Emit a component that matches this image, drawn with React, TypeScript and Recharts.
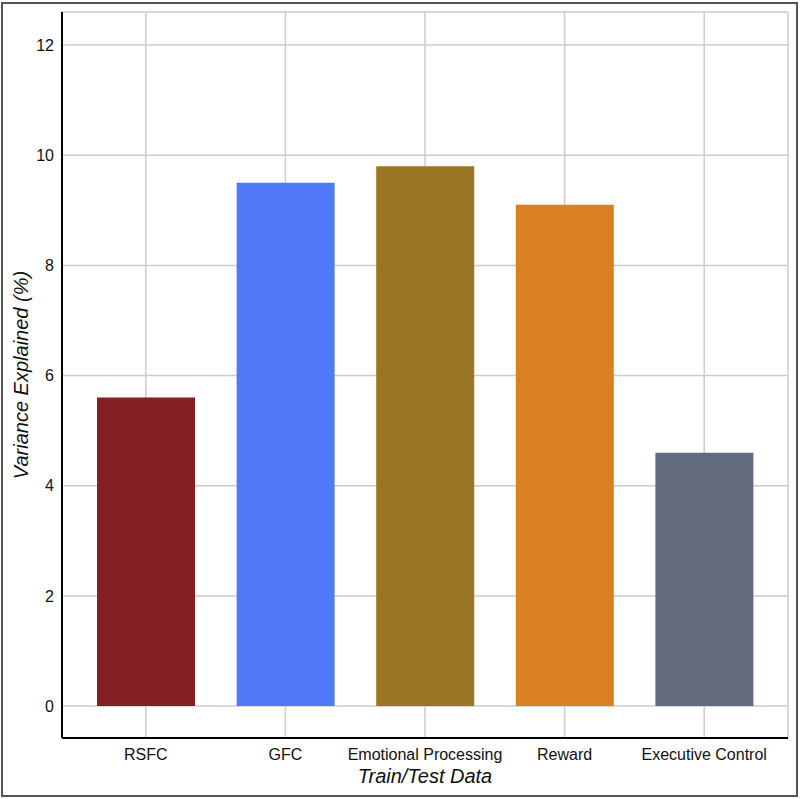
import { BarChart, Bar, XAxis, YAxis, CartesianGrid, Cell, Label } from 'recharts';

// --- chart data ---
const categories = ['RSFC', 'GFC', 'Emotional Processing', 'Reward', 'Executive Control'];
const varianceExplained = [5.6, 9.5, 9.8, 9.1, 4.6];
const barColors = ['#841f22', '#4f79f7', '#997722', '#d98023', '#626b7d'];
const yTicks = [0, 2, 4, 6, 8, 10, 12];

const data = categories.map((name, i) => ({ name, value: varianceExplained[i] }));

const FONT = '"Liberation Sans", Arial, Helvetica, sans-serif';

export default function App() {
  return (
    <div style={{ position: 'relative', width: 800, height: 799, background: '#fff', fontFamily: FONT }}>
      <style>{'body{margin:0;}'}</style>
      <div
        style={{
          position: 'absolute',
          left: 1,
          top: 2,
          width: 797,
          height: 795,
          border: '2px solid #555',
          boxSizing: 'border-box',
          pointerEvents: 'none',
        }}
      />
      <BarChart
        width={800}
        height={799}
        data={data}
        margin={{ top: 12, right: 12, left: 0, bottom: 0 }}
        barSize={98}
      >
        <CartesianGrid stroke="#cccccc" strokeWidth={1.5} />
        <XAxis
          dataKey="name"
          height={61}
          padding={{ left: 14, right: 14 }}
          tickLine={false}
          tickMargin={5}
          axisLine={{ stroke: '#000', strokeWidth: 2 }}
          tick={{ fill: '#111', fontSize: 16, fontFamily: FONT }}
          interval={0}
        >
          <Label
            value="Train/Test Data"
            position="insideBottom"
            offset={16}
            style={{ fontStyle: 'italic', fontSize: 20, fill: '#111', fontFamily: FONT }}
          />
        </XAxis>
        <YAxis
          width={62}
          type="number"
          domain={[-0.58, 12.6]}
          ticks={yTicks}
          allowDataOverflow
          tickLine={false}
          axisLine={{ stroke: '#000', strokeWidth: 2 }}
          tick={{ fill: '#111', fontSize: 16, fontFamily: FONT }}
        >
          <Label
            value="Variance Explained (%)"
            angle={-90}
            position="insideLeft"
            offset={21}
            style={{ textAnchor: 'middle', fontStyle: 'italic', fontSize: 20, fill: '#111', fontFamily: FONT }}
          />
        </YAxis>
        <Bar dataKey="value" isAnimationActive={false}>
          {data.map((d, i) => (
            <Cell key={d.name} fill={barColors[i]} />
          ))}
        </Bar>
      </BarChart>
    </div>
  );
}
